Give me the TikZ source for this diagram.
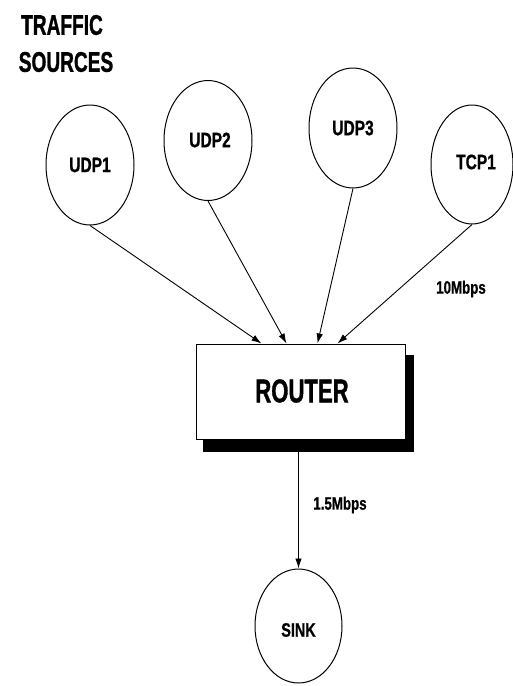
\documentclass[tikz,border=0pt]{standalone}
\usepackage{fontspec}
\newfontfamily\lblfont[FakeStretch=0.74,FakeBold=0.8]{Liberation Sans}
\newfontfamily\headfont[FakeStretch=0.67,FakeBold=1]{Liberation Sans}
\usetikzlibrary{shapes.geometric,arrows.meta,calc}
\tikzset{
  source/.style={ellipse, draw, line width=1pt, minimum width=88pt, minimum height=120pt, inner sep=0pt},
  lbl/.style={font=\lblfont\bfseries\fontsize{#1}{#1}\selectfont, inner sep=0pt},
  head/.style={font=\headfont\bfseries\fontsize{#1}{#1}\selectfont, inner sep=0pt},
  link/.style={line width=0.9pt, -{Latex[length=10pt,width=6.5pt]}},
}
\begin{document}
\begin{tikzpicture}[x=1pt,y=-1pt]
\useasboundingbox (0,0) rectangle (513,686);

% heading
\node[head=28.5] (t1) at (62,25) {TRAFFIC};
\node[head=28.5] (t2) at (66,62) {SOURCES};

% traffic sources
\node[source] (udp1) at (90,165) {};
\node[lbl=21] at (90,165) {UDP1};
\node[source] (udp2) at (208,140.5) {};
\node[lbl=21] at (210,140) {UDP2};
\node[source] (udp3) at (353,128) {};
\node[lbl=21] at (353,128) {UDP3};
\node[source, minimum width=82pt, minimum height=119pt] (tcp1) at (472,164.5) {};
\node[lbl=21] at (476,162) {TCP1};

% router with drop shadow
\node[fill=black, minimum width=211pt, minimum height=97pt, inner sep=0pt] (rshadow) at (308.5,403.5) {};
\node[draw, fill=white, line width=1pt, minimum width=209pt, minimum height=95pt, inner sep=0pt] (router) at (300.5,391.5) {};
\node[head=33] at (302,391) {ROUTER};

% entry points on the router's top edge
\coordinate (in1) at ($(router.north west)+(66,0)$);
\coordinate (in2) at ($(router.north west)+(91,0)$);
\coordinate (in3) at ($(router.north west)+(122,0)$);
\coordinate (in4) at ($(router.north west)+(142,0)$);

\draw[link] (udp1.south) -- (in1);
\draw[link] (udp2.south) -- (in2);
\draw[link] (udp3.south) -- (in3);
\draw[link] (tcp1.south) -- (in4);

\node[lbl=18] (r10) at (461,289) {10Mbps};

% sink
\node[source, minimum width=87pt, minimum height=114pt] (sink) at (298.5,626) {};
\node[lbl=19.5] at (298.5,630) {SINK};
\coordinate (out) at (sink.north |- rshadow.south);
\draw[link] (out) -- (sink.north);
\node[lbl=18] (r15) at (340,505) {1.5Mbps};
\end{tikzpicture}
\end{document}
